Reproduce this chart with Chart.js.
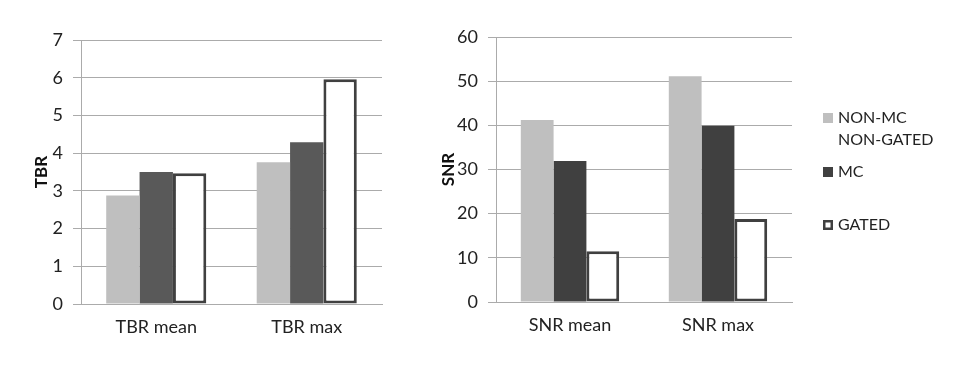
<!DOCTYPE html>
<html>
<head>
<meta charset="utf-8">
<script src="https://cdn.jsdelivr.net/npm/chart.js@4/dist/chart.umd.min.js"></script>
<style>
  html, body { margin: 0; padding: 0; background: #fff; }
  body { width: 977px; height: 367px; position: relative; overflow: hidden; }
  #tbrChart { position: absolute; left: 0; top: 0; }
  #snrChart { position: absolute; left: 420px; top: 0; }
</style>
</head>
<body>
<canvas id="tbrChart" width="400" height="367"></canvas>
<canvas id="snrChart" width="557" height="367"></canvas>
<script>
// categories and series
var tbrLabels = ['TBR mean', 'TBR max'];
var snrLabels = ['SNR mean', 'SNR max'];
var seriesNames = [['NON-MC', 'NON-GATED'], 'MC', 'GATED'];

var tbrNonMc = [2.88, 3.76];
var tbrMc = [3.5, 4.29];
var tbrGated = [3.47, 5.96];

var snrNonMc = [41.2, 51.1];
var snrMc = [31.9, 39.9];
var snrGated = [11.5, 18.8];

var FONT = 'Lato, "Open Sans", sans-serif';
var gridGray = '#ababab';

Chart.defaults.font.family = FONT;
Chart.defaults.color = '#222';
Chart.defaults.animation = false;

function bars(name, data, color) {
    var white = color === '#ffffff';
    return {
        label: name,
        data: data,
        backgroundColor: color,
        borderColor: white ? '#404040' : color,
        borderWidth: white ? 3 : 0,
        borderSkipped: false,
        barPercentage: 1,
        categoryPercentage: 0.665
    };
}

function scales(title, max, step, yWidth, titlePad) {
    return {
        x: {
            grid: { display: false, drawTicks: false },
            border: { display: true, color: gridGray },
            ticks: { font: { size: 18 }, color: '#222', padding: 12 },
            afterFit: function (s) { s.height = 40; }
        },
        y: {
            min: 0,
            max: max,
            ticks: { stepSize: step, font: { size: 18 }, color: '#222', padding: 10 },
            grid: { color: gridGray, tickLength: 8 },
            border: { display: true, color: gridGray },
            title: {
                display: true,
                text: title,
                font: { size: 17, weight: 'bold' },
                color: '#111',
                padding: { top: titlePad, bottom: 0 }
            },
            afterFit: function (s) { s.width = yWidth; }
        }
    };
}

// legend drawn beside the SNR plot, like the original
var sideLegend = {
    id: 'sideLegend',
    afterDraw: function (chart) {
        var ctx = chart.ctx;
        var x = chart.chartArea.right + 31;
        var rows = [118, 172, 225];
        var lineH = 22;
        ctx.save();
        ctx.font = '16px ' + FONT;
        ctx.textBaseline = 'middle';
        ctx.textAlign = 'left';
        chart.data.datasets.forEach(function (ds, i) {
            var y = rows[i];
            if (ds.borderWidth > 0) {
                ctx.fillStyle = '#fff';
                ctx.fillRect(x, y - 5, 10, 10);
                ctx.strokeStyle = ds.borderColor;
                ctx.lineWidth = 2.5;
                ctx.strokeRect(x + 1.25, y - 3.75, 7.5, 7.5);
            } else {
                ctx.fillStyle = ds.backgroundColor;
                ctx.fillRect(x, y - 5, 10, 10);
            }
            ctx.fillStyle = '#222';
            var lines = Array.isArray(ds.label) ? ds.label : [ds.label];
            lines.forEach(function (t, j) {
                ctx.fillText(t, x + 15, y + j * lineH);
            });
        });
        ctx.restore();
    }
};

new Chart(document.getElementById('tbrChart'), {
    type: 'bar',
    data: {
        labels: tbrLabels,
        datasets: [
            bars(seriesNames[0], tbrNonMc, '#bfbfbf'),
            bars(seriesNames[1], tbrMc, '#595959'),
            bars(seriesNames[2], tbrGated, '#ffffff')
        ]
    },
    options: {
        responsive: false,
        devicePixelRatio: 1,
        layout: { padding: { left: 0, right: 18, top: 40, bottom: 23 } },
        plugins: { legend: { display: false }, tooltip: { enabled: false } },
        scales: scales('TBR', 7, 1, 81, 31)
    }
});

new Chart(document.getElementById('snrChart'), {
    type: 'bar',
    data: {
        labels: snrLabels,
        datasets: [
            bars(seriesNames[0], snrNonMc, '#bfbfbf'),
            bars(seriesNames[1], snrMc, '#404040'),
            bars(seriesNames[2], snrGated, '#ffffff')
        ]
    },
    options: {
        responsive: false,
        devicePixelRatio: 1,
        layout: { padding: { left: 0, right: 185, top: 37, bottom: 25 } },
        plugins: { legend: { display: false }, tooltip: { enabled: false } },
        scales: scales('SNR', 60, 10, 76, 18)
    },
    plugins: [sideLegend]
});
</script>
</body>
</html>
